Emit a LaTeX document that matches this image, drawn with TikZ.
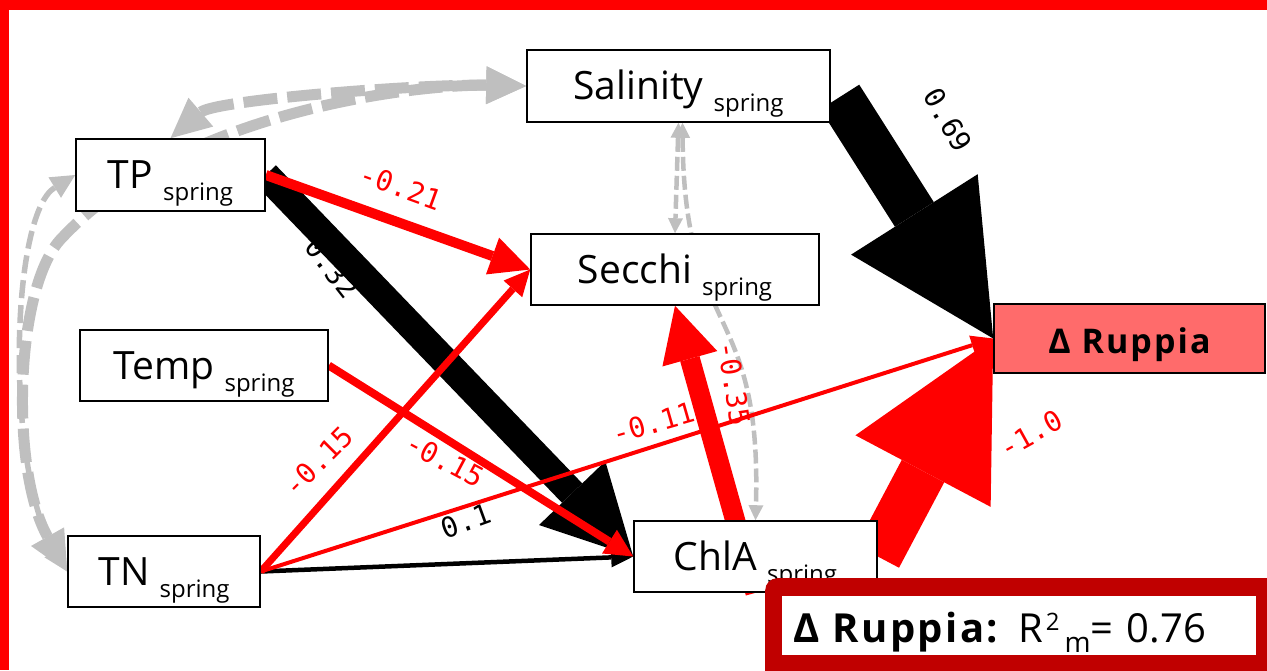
\documentclass[tikz,border=0pt]{standalone}
\usepackage{fontspec}
\setmainfont{Open Sans}
\newfontfamily\lblfont{DejaVu Sans Mono}
\usetikzlibrary{arrows.meta,calc}
\definecolor{cneg}{HTML}{FF0000}
\definecolor{ccov}{HTML}{BFBFBF}
\definecolor{cresp}{HTML}{FF6B6B}
\definecolor{cframe}{HTML}{C00000}
\pgfdeclarelayer{cov}
\pgfdeclarelayer{lbl}
\pgfdeclarelayer{paths}
\pgfsetlayers{cov,lbl,paths,main}
% season subscript under the variable name
\newcommand{\sprg}{\raisebox{-12pt}{\fontsize{24}{24}\selectfont spring}}
% wide bold for the response name
\newcommand{\respname}[1]{{\bfseries\addfontfeatures{LetterSpace=6}#1}}
\tikzset{
  varbox/.style={draw, line width=1.6pt, fill=white, minimum height=72pt,
                 inner sep=0pt, text height=31pt, text depth=4pt,
                 font=\fontsize{39}{39}\selectfont},
  respbox/.style={varbox, fill=cresp, text height=32pt, text depth=3pt,
                  font=\fontsize{34}{34}\selectfont},
  r2box/.style={fill=white, minimum height=59pt, inner xsep=11pt, inner ysep=0pt,
                text width=452pt, align=left, text height=33pt, text depth=0pt,
                font=\fontsize{40}{40}\selectfont},
  coef/.style={font=\lblfont\fontsize{28}{28}\selectfont, inner sep=0pt},
  lblneg/.style={coef, text=cneg},
  lblpos/.style={coef, text=black},
  pth/.style n args={3}{line width=#1, -{Triangle[width=#2, length=#3, line width=0pt]}},
  effpos/.style={draw=black, fill=black},
  effneg/.style={draw=cneg, fill=cneg},
  covthick/.style={draw=ccov, line width=11pt, dash pattern=on 34pt off 10pt,
                   {Triangle[width=38pt, length=40pt, line width=0pt]}-{Triangle[width=38pt, length=40pt, line width=0pt]}},
  covthin/.style={draw=ccov, line width=5.5pt, dash pattern=on 18pt off 7pt,
                  {Triangle[width=24pt, length=24pt, line width=0pt]}-{Triangle[width=24pt, length=24pt, line width=0pt]}},
  covsmall/.style={draw=ccov, line width=4.5pt, dash pattern=on 14pt off 5pt,
                   {Triangle[width=15pt, length=15pt, line width=0pt]}-{Triangle[width=15pt, length=15pt, line width=0pt]}},
}

\begin{document}
\begin{tikzpicture}[x=1pt, y=-1pt]
  \useasboundingbox (0,0) rectangle (1267,670);
  \fill[cneg] (0,0) rectangle (1267,10);
  \fill[cneg] (0,0) rectangle (9,670);

  % variables
  \node[varbox, minimum width=303pt] (sal) at (678.5,86) {Salinity \sprg};
  \node[varbox, minimum width=189pt] (tp) at (170.5,175) {TP \sprg};
  \node[varbox, minimum width=288pt, minimum height=71pt] (secchi) at (675,269.5) {Secchi \sprg};
  \node[varbox, minimum width=248pt, minimum height=71pt] (temp) at (204,365.5) {Temp \sprg};
  \node[varbox, minimum width=192pt, minimum height=71pt] (tn) at (164,571.5) {TN \sprg};
  \node[varbox, minimum width=243pt, minimum height=71pt] (chla) at (755.5,556.5) {ChlA \sprg};
  \node[respbox, minimum width=271pt, minimum height=69pt] (rup) at (1129.5,338.5) {\respname{Δ Ruppia}};

  % correlated errors
  \begin{pgfonlayer}{cov}
    \draw[covthick] (tp.north) .. controls (215,100) and (420,84) .. (sal.west);
    \draw[covthick] (sal.west) .. controls (420,84) and (180,110) .. (60,240)
                    .. controls (15,290) and (10,470) .. (tn.west);
    \draw[covthin] (tp.west) .. controls (10,215) and (5,470) .. (tn.west);
    \draw[covsmall] (sal.south) -- (secchi.north);
    \draw[covsmall] ($(sal.south)+(4,0)$) .. controls (684,340) and (762,300) .. (chla.north);
  \end{pgfonlayer}

  % path coefficients
  \begin{pgfonlayer}{lbl}
    \node[lblneg, rotate=-20] (lTpSec) at (401,187) {-0.21};
    \node[lblpos, rotate=-52] (lTpChl) at (332,268) {0.32};
    \node[lblpos, rotate=-60] (lSalRup) at (948,120) {0.69};
    \node[lblneg, rotate=45] (lTnSec) at (318,461) {-0.15};
    \node[lblneg, rotate=-28] (lTmpChl) at (445,460) {-0.15};
    \node[lblneg, rotate=16] (lTnRup) at (653,423) {-0.11};
    \node[lblpos, rotate=20] (lTnChl) at (466,521) {0.1};
    \node[lblneg, rotate=-81] (lChlSec) at (734,384) {-0.35};
    \node[lblneg, rotate=29] (lChlRup) at (1031,434) {-1.0};
  \end{pgfonlayer}

  % paths, width ~ effect size
  \begin{pgfonlayer}{paths}
    \draw[effpos, pth={46pt}{150pt}{147pt}] ($(sal.east)+(9,11)$) -- (rup.west);
    \draw[effpos, pth={28pt}{92pt}{88pt}] (tp.east) -- (chla.west);
    \draw[effpos, pth={4.5pt}{20pt}{22pt}] (tn.east) -- (chla.west);
    \draw[effneg, pth={10pt}{39pt}{40pt}] (tp.east) -- (secchi.west);
    \draw[effneg, pth={8pt}{28pt}{28pt}] (temp.east) -- (chla.west);
    \draw[effneg, pth={7pt}{25pt}{26pt}] (tn.east) -- (secchi.west);
    \draw[effneg, pth={4pt}{20pt}{22pt}] (tn.east) -- (rup.west);
    \draw[effneg, pth={20pt}{57pt}{55pt}] (chla.south) -- (secchi.south);
    \draw[effneg, pth={48pt}{153pt}{150pt}] (chla.east) -- (rup.west);
  \end{pgfonlayer}

  % model fit
  \node[fill=cframe, rounded corners=12pt, inner sep=0pt, minimum width=540pt,
        minimum height=120pt, anchor=north west] (r2frame) at (765,578) {};
  \node[r2box] (r2) at (1019,625.5) {\respname{Δ Ruppia:} R\hspace{3pt}\raisebox{12pt}{\fontsize{24}{24}\selectfont 2}\hspace{5pt}\raisebox{-10pt}{\fontsize{28}{28}\selectfont m}= 0.76};
\end{tikzpicture}
\end{document}
